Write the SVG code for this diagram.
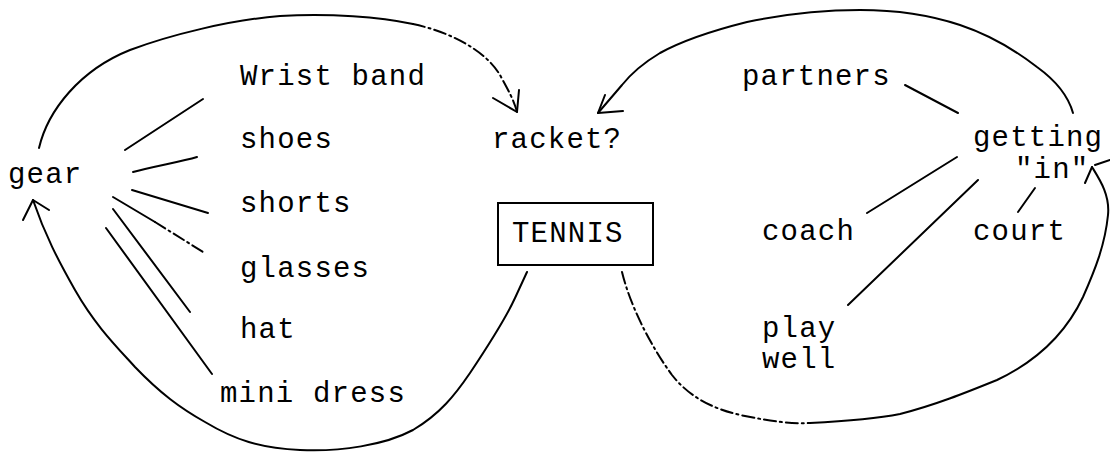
<svg xmlns="http://www.w3.org/2000/svg" width="1110" height="452" viewBox="0 0 1110 452">
  <style>
    .lbl { font-family: "Liberation Mono", "Courier New", monospace; font-size: 29px; letter-spacing: 1.2px; fill: #000; }
    .ln { fill: none; stroke: #000; stroke-width: 2; stroke-linecap: round; stroke-linejoin: round; }
    .dd { stroke-dasharray: 12 4 2 4; }
    .box { fill: #fff; stroke: #000; stroke-width: 2; }
  </style>
  <rect width="1110" height="452" fill="#fff"/>

  <!-- connectors -->
  <g id="connectors">
    <!-- gear loop up to racket? -->
    <path class="ln" d="M39,148 C48,110 80,70 130,50 C170,35 230,20 280,16 C330,13 380,17 413,24"/>
    <path class="ln dd" d="M413,24 C450,32 485,50 500,75 C508,90 514,100 517,112"/>
    <path class="ln" d="M493,98 L517,112 L519,90"/>

    <!-- TENNIS back round to gear -->
    <path class="ln" d="M527,272 L515,298 C505,320 490,343 470,373 C455,395 440,414 413,430 C385,445 340,452 300,450 C260,448 235,440 205,422 C180,408 160,393 135,367 C115,345 95,325 75,290 C58,260 45,235 33,200"/>
    <path class="ln" d="M23,220 L33,200 L49,210"/>

    <!-- getting "in" loop up to racket? -->
    <path class="ln" d="M1073,113 C1068,95 1055,80 1037,67 C1015,50 990,35 960,25 C930,15 900,10 860,10 C820,10 780,15 747,22 C715,30 680,42 660,53 C640,65 630,75 622,85 L598,113"/>
    <path class="ln" d="M605,95 L598,113 L623,111"/>

    <!-- TENNIS round to getting "in" -->
    <path class="ln dd" d="M622,272 C630,305 650,345 672,375 C690,398 715,410 745,416 C770,421 790,424 810,423"/>
    <path class="ln" d="M810,423 C850,421 880,418 900,414 C935,405 965,393 997,380 C1035,362 1065,335 1083,297 C1095,270 1105,245 1108,215 C1110,195 1100,180 1092,167"/>
    <path class="ln" d="M1085,183 L1092,167 M1095,165 L1110,160"/>

    <!-- spokes from gear -->
    <path class="ln" d="M125,150 L203,99"/>
    <path class="ln" d="M133,172 C155,166 180,162 197,157"/>
    <path class="ln" d="M132,190 L208,213"/>
    <path class="ln" d="M113,197 L155,222"/>
    <path class="ln dd" d="M155,222 L203,252"/>
    <path class="ln" d="M113,209 L190,312"/>
    <path class="ln" d="M106,228 L212,374"/>

    <!-- spokes from getting "in" -->
    <path class="ln" d="M905,85 L958,113"/>
    <path class="ln" d="M957,157 L867,213"/>
    <path class="ln" d="M978,180 L848,305"/>
    <path class="ln" d="M1035,188 L1018,212"/>
  </g>

  <g id="gear"><text class="lbl" x="8" y="183">gear</text></g>
  <g id="wrist-band"><text class="lbl" x="240" y="85">Wrist band</text></g>
  <g id="shoes"><text class="lbl" x="240" y="148">shoes</text></g>
  <g id="shorts"><text class="lbl" x="240" y="212">shorts</text></g>
  <g id="glasses"><text class="lbl" x="240" y="277">glasses</text></g>
  <g id="hat"><text class="lbl" x="240" y="338">hat</text></g>
  <g id="mini-dress"><text class="lbl" x="220" y="402">mini dress</text></g>
  <g id="racket"><text class="lbl" x="492" y="148">racket?</text></g>
  <g id="tennis">
    <rect class="box" x="498" y="203" width="155" height="62"/>
    <text class="lbl" x="512" y="242">TENNIS</text>
  </g>
  <g id="partners"><text class="lbl" x="742" y="85">partners</text></g>
  <g id="getting-in">
    <text class="lbl" x="973" y="146">getting</text>
    <text class="lbl" x="1015" y="178">"in"</text>
  </g>
  <g id="coach"><text class="lbl" x="762" y="240">coach</text></g>
  <g id="court"><text class="lbl" x="973" y="240">court</text></g>
  <g id="play-well">
    <text class="lbl" x="762" y="337">play</text>
    <text class="lbl" x="762" y="368">well</text>
  </g>
</svg>
